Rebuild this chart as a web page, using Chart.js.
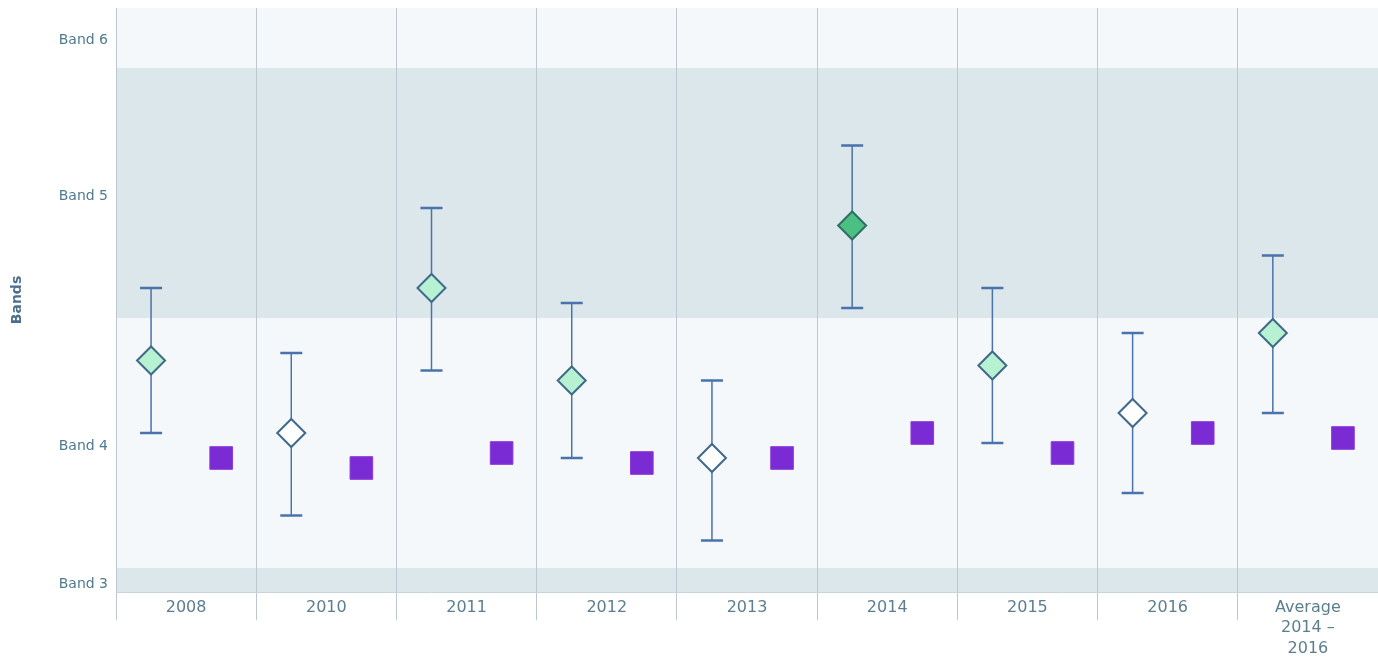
<!DOCTYPE html>
<html>
<head>
<meta charset="utf-8">
<script src="https://cdn.jsdelivr.net/npm/chart.js@4"></script>
<style>
  html, body { margin: 0; padding: 0; background: #fff; overflow: hidden; }
  #wrap { width: 1378px; height: 660px; }
</style>
</head>
<body>
<div id="wrap"><canvas id="Chart"></canvas></div>
<script>
// categories along the bottom
const years = ["2008", "2010", "2011", "2012", "2013", "2014", "2015", "2016", ["Average", "2014 –", "2016"]];

// school mean (diamond) with its range, and state mean (square)
const schoolMean = [4.83, 4.54, 5.12, 4.75, 4.44, 5.37, 4.81, 4.62, 4.94];
const schoolHigh = [5.12, 4.86, 5.44, 5.06, 4.75, 5.69, 5.12, 4.94, 5.25];
const schoolLow = [4.54, 4.21, 4.79, 4.44, 4.11, 5.04, 4.50, 4.30, 4.62];
const stateMean = [4.44, 4.40, 4.46, 4.42, 4.44, 4.54, 4.46, 4.54, 4.52];

// diamond fill per year: light green, white, darker green
const diamondFill = ["#b6f1d2", "#ffffff", "#b6f1d2", "#b6f1d2", "#ffffff", "#4cbf82", "#b6f1d2", "#ffffff", "#b6f1d2"];
const diamondEdge = ["#41698a", "#41698a", "#41698a", "#41698a", "#41698a", "#2f6f66", "#41698a", "#41698a", "#41698a"];

// band labels and the shaded band ranges
const bandTicks = [3.936, 4.488, 5.488, 6.112];
const bandLabels = ["Band 3", "Band 4", "Band 5", "Band 6"];
const bandEdges = [3.904, 4, 5, 6, 6.24];

const LIGHT = "#f4f8fa";
const DARK = "#dbe7eb";

const schoolPts = schoolMean.map((v, i) => ({ x: i - 0.25, y: v }));
const statePts = stateMean.map((v, i) => ({ x: i + 0.25, y: v }));

const bandShade = {
  id: "bandShade",
  beforeDraw(chart) {
    const { ctx, chartArea, scales } = chart;
    ctx.save();
    for (let i = 0; i < bandEdges.length - 1; i++) {
      const top = scales.y.getPixelForValue(bandEdges[i + 1]);
      const bot = scales.y.getPixelForValue(bandEdges[i]);
      ctx.fillStyle = i % 2 === 0 ? DARK : LIGHT;
      ctx.fillRect(chartArea.left, top, chartArea.right - chartArea.left, bot - top);
    }
    ctx.restore();
  }
};

const errorBars = {
  id: "errorBars",
  beforeDatasetsDraw(chart) {
    const { ctx, scales } = chart;
    ctx.save();
    ctx.strokeStyle = "#4a72ab";
    for (let i = 0; i < schoolMean.length; i++) {
      const x = scales.x.getPixelForValue(i - 0.25);
      const hi = scales.y.getPixelForValue(schoolHigh[i]);
      const lo = scales.y.getPixelForValue(schoolLow[i]);
      ctx.lineWidth = 1.5;
      ctx.beginPath();
      ctx.moveTo(x, hi);
      ctx.lineTo(x, lo);
      ctx.stroke();
      ctx.lineWidth = 2.5;
      ctx.beginPath();
      ctx.moveTo(x - 11, hi);
      ctx.lineTo(x + 11, hi);
      ctx.moveTo(x - 11, lo);
      ctx.lineTo(x + 11, lo);
      ctx.stroke();
    }
    ctx.restore();
  }
};

const myChart = new Chart(document.querySelector("#Chart"), {
  type: "scatter",
  data: {
    datasets: [
      {
        label: "School",
        data: schoolPts,
        pointStyle: "rectRot",
        pointRadius: 14,
        pointHoverRadius: 14,
        pointBackgroundColor: diamondFill,
        pointBorderColor: diamondEdge,
        pointBorderWidth: 2
      },
      {
        label: "State",
        data: statePts,
        pointStyle: "rect",
        pointRadius: 16,
        pointHoverRadius: 16,
        pointBackgroundColor: "#7a2bd4",
        pointBorderColor: "#8a3ad8",
        pointBorderWidth: 1
      }
    ]
  },
  options: {
    responsive: true,
    maintainAspectRatio: false,
    animation: false,
    layout: { autoPadding: false, padding: { top: 8, right: -4, left: 0, bottom: 0 } },
    plugins: { legend: { display: false }, tooltip: { enabled: false } },
    scales: {
      x: {
        type: "linear",
        min: -0.5,
        max: 8.5,
        afterBuildTicks(axis) {
          const t = [];
          for (let v = -0.5; v <= 8.5; v += 0.5) t.push({ value: v });
          axis.ticks = t;
        },
        afterFit(axis) {
          axis.height = 68;
          axis.paddingLeft = 0;
          axis.paddingRight = 0;
        },
        grid: {
          color: (c) => (c.tick && Number.isInteger(c.tick.value) ? "rgba(0,0,0,0)" : "#bcc7cf"),
          lineWidth: 1,
          tickLength: 28
        },
        border: { display: true, color: "#c9d4da" },
        ticks: {
          autoSkip: false,
          maxRotation: 0,
          padding: -23,
          color: "#5d7e8e",
          font: { family: "DejaVu Sans", size: 16, lineHeight: 1.3 },
          callback(v) {
            return Number.isInteger(v) ? years[v] : "";
          }
        }
      },
      y: {
        min: 3.904,
        max: 6.24,
        afterBuildTicks(axis) {
          axis.ticks = bandTicks.map((v) => ({ value: v }));
        },
        afterFit(axis) {
          axis.width = 116;
          axis.paddingTop = 0;
          axis.paddingBottom = 0;
        },
        grid: { display: false, drawTicks: false },
        border: { display: false },
        ticks: {
          padding: 8,
          color: "#4f7a92",
          font: { family: "DejaVu Sans", size: 14 },
          callback(v) {
            const i = bandTicks.indexOf(v);
            return i >= 0 ? bandLabels[i] : "";
          }
        },
        title: {
          display: true,
          text: "Bands",
          color: "#4d6f8e",
          padding: { top: 9, bottom: 4 },
          font: { family: "DejaVu Sans", size: 14, weight: "bold" }
        }
      }
    }
  },
  plugins: [bandShade, errorBars]
});
</script>
</body>
</html>
